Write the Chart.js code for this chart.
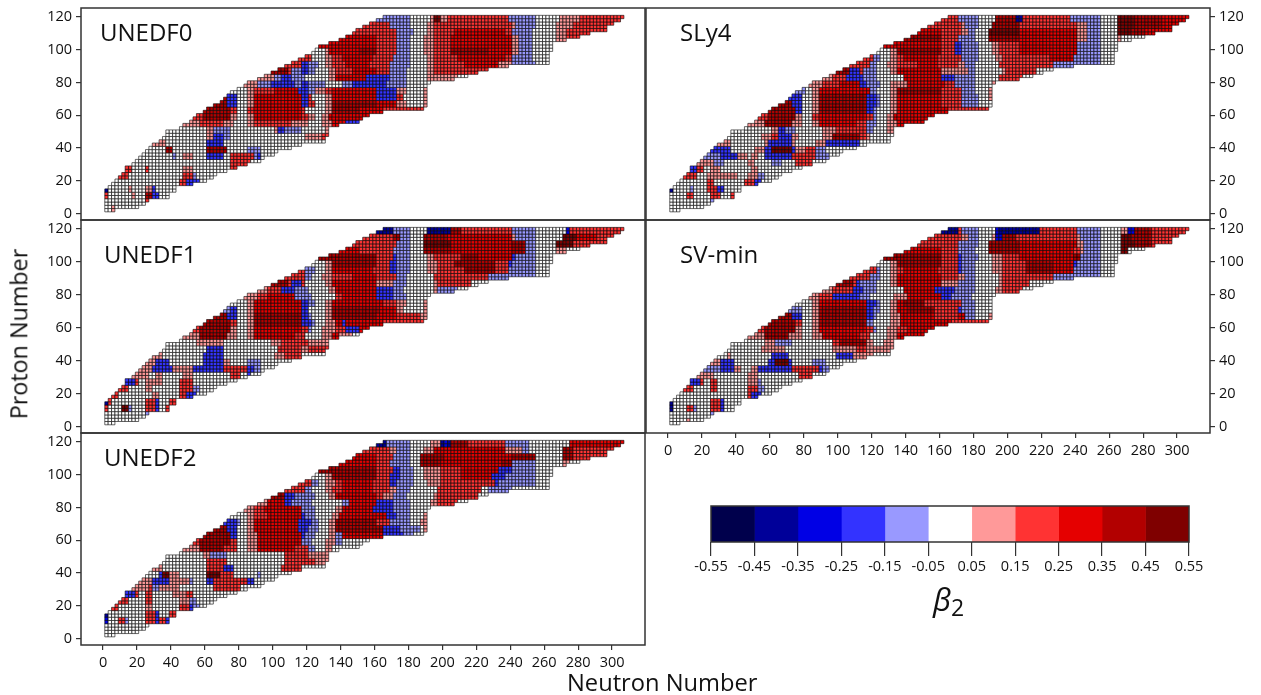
<!DOCTYPE html>
<html>
<head>
<meta charset="utf-8">
<script src="https://cdn.jsdelivr.net/npm/chart.js@4"></script>
<style>
body{margin:0;background:#fff;width:1261px;height:695px;overflow:hidden;font-family:"Open Sans",sans-serif;color:#111}
canvas{position:absolute}
.txt{position:absolute;white-space:nowrap;line-height:1}
</style>
</head>
<body>
<script>
// proton rows, and where each row starts and stops in neutron number
const rowZ =     [2,4,6,8,10,12,14,16,18,20,22,24,26,28,30,32,34,36,38,40,42,44,46,48,50,52,54,56,58,60,62,64,66,68,70,72,74,76,78,80,82,84,86,88,90,92,94,96,98,100,102,104,106,108,110,112,114,116,118,120];
const rowStart = [2,2,2,2,2,2,2,4,6,8,10,12,14,14,18,20,22,24,26,28,30,34,36,38,38,46,48,52,54,56,60,62,66,70,72,74,76,80,84,86,92,96,100,104,108,112,116,120,124,126,128,134,140,144,148,150,154,158,162,166];
const rowEnd =   [6,20,24,26,38,38,42,42,52,60,64,66,72,78,84,92,94,100,102,110,116,130,130,132,132,132,138,150,152,156,164,188,190,190,190,190,190,190,190,192,206,214,220,226,238,262,262,262,262,264,264,264,272,280,286,296,296,300,304,306];

const xTicks = [0,20,40,60,80,100,120,140,160,180,200,220,240,260,280,300];
const yTicks = [0,20,40,60,80,100,120];
const colorTicks = [-0.55,-0.45,-0.35,-0.25,-0.15,-0.05,0.05,0.15,0.25,0.35,0.45,0.55];
const colorTickLabels = ['-0.55','-0.45','-0.35','-0.25','-0.15','-0.05','0.05','0.15','0.25','0.35','0.45','0.55'];
const levelCodes = ['a','b','c','d','e','f','g','h','i','j','k'];
const levelColors = ['#00004c','#000099','#0000e5','#3333ff','#9999ff','#ffffff','#ff9999','#ff3333','#e50000','#b20000','#7f0000'];

// one line per pair of rows from Z=120/118 down to Z=4/2.
// "h170" means level h up to N=170
const unedf0Rows = [
'e180 f192 g194 k198 g202 h238 e254 f268 g280 h320',
'h168 e180 f190 g194 h240 g242 e254 f266 g276 h320',
'h172 e182 f190 g194 h206 i236 h240 e252 f266 g272 h320',
'i160 h172 e180 f188 g194 h204 i240 g244 e252 f266 g272 h320',
'i160 h172 e180 f188 g194 h204 i240 g244 e252 f264 g320',
'f130 g132 i150 j160 h172 e180 f188 g194 h204 j226 i240 g244 e252 f320',
'h122 f130 g134 h140 i158 h170 e180 f190 g194 h208 i236 h240 e252 f320',
'h116 d120 e126 f130 g134 h142 i156 h168 e180 f190 g194 h212 i232 g240 e254 f320',
'j108 h110 e116 d120 e124 f132 g136 h146 i160 h168 e178 f190 g194 h226',
'g100 e104 d110 e118 f132 g136 i154 d168 e178 f190 g208',
'g90 e98 d112 e116 d120 e130 f140 e146 d166 e178 f194',
'f84 g88 h100 i114 d120 e124 g130 h134 i160 d172 g178 f188 g192',
'j72 d78 f84 g88 i116 d120 h122 f130 g134 i160 d172 h176 f188 g192',
'j72 d78 f84 g88 i116 d120 h124 f130 g134 j160 i172 g178 f188 g192',
'j74 h78 f84 h88 i116 h118 f130 g134 j150 i164 h190',
'h58 j74 g78 f84 g88 i116 h120 g124 f128 g132 i160',
'g56 h70 g76 f84 g88 h110 g120 f128 g134 i142 d152 i164',
'f60 g64 e74 f100 g102 d106 e116 f130 g134',
'f60 g64 d70 e74 f118 g128 h132 g134',
'g36 f60 d70 f116',
'f36 j40 f60 j72 f84 e92 f116',
'f40 e42 f46 g52 f60 d70 f74 h88 e90 d92 f102',
'f74 h86 f94',
'h16 f24 h26 f46 g52 f74 h80',
'h14 f46 h52 e54 f70',
'f44 h48 d56 f62',
'b2 f14 g16 f24 g28 d30 f42',
'h2 f16 g18 f24 j28 d32 f38 g40',
'f24 h26 f38',
'f4 g6 f30'
];
const sly4Rows = [
'h170 e182 f192 j204 b208 h236 e254 f264 k274 j290 i320',
'h172 g174 e182 f190 j206 h240 g246 e254 f264 k274 j290 i320',
'i160 h172 g176 e180 f188 k206 i240 g246 e254 f264 k272 j280 i320',
'j160 h170 e180 f188 j206 i240 g246 e254 f264 g266 f320',
'i160 h168 d172 e182 f190 g194 h206 i240 e254 f264 g320',
'f130 g134 j160 h168 d172 e182 f190 g194 h206 i240 e254 f264 g320',
'h120 e124 f130 g134 h138 i158 h172 e182 f192 g196 h224 i238 e254 f320',
'h118 e122 f128 g134 h146 i158 h170 g174 e180 f194 h226 e254 f320',
'j106 d112 h114 e122 f130 g134 i160 g176 e180 f196 g198 h216',
'g96 h104 d114 e122 f138 i160 d168 e180 f194 h208',
'g90 h100 i112 d116 e124 f130 g140 i162 h168 e180 f190 g192',
'e80 f84 g88 i118 e122 f130 g134 j160 h172 e180 f188 g192',
'd78 f84 g88 j116 d122 e124 f130 g134 i160 h172 e182 f188 g192',
'j72 d78 f84 g88 j116 d122 e124 f130 g134 i160 h172 e182 f190',
'j74 d78 f84 g88 j116 d120 e122 f130 g134 i164 h188 e190',
'h58 j74 g78 f84 h88 i116 h120 e122 f128 g132 i160',
'g56 j72 g78 f84 g88 i110 h116 e122 f128 g134 i164',
'f60 g64 d68 e74 f90 g98 h116 e120 f128 g132',
'f54 g60 h64 d72 g76 f90 g96 j112 h116 g118 f132',
'g36 f56 g58 d72 g74 f86 g92 d112 f118',
'd37 f50 g56 d60 k72 d74 g80 h86 e92 f104',
'e30 d40 g46 f48 g52 f56 d72 h80 h86 e94 f100',
'g26 e32 f46 g50 f60 e66 f74 h84 f94',
'd16 h20 f24 g30 f48 g52 f70',
'h16 f22 g26 g40 f46 g52 e56 f70',
'f22 h26 f44 h50 d54 f62',
'b2 f12 e14 f22 h28 d32 f42',
'f10 h14 f24 h30 f36 h40',
'f24 e28 f26',
'f40'
];
const unedf1Rows = [
'b170 e180 f190 b204 j210 h240 e254 f272 c274 h320',
'h170 j174 e180 f188 j202 i240 g242 e254 f270 k278 i290 h320',
'h172 e180 f188 k204 i240 j248 e254 f266 k276 h320',
'i150 h170 e180 f188 j204 i240 j248 e254 f266 g272 f320',
'j160 h170 d172 e180 f190 g194 h210 j220 i240 d242 e254 f264 g266',
'f130 g134 j160 h168 d172 e180 f190 g196 h206 j230 h238 d240 e254 f266',
'h118 e124 f130 g134 i158 h168 d172 e180 f190 g196 h212 j230 h238 e254 f264',
'h118 e122 f128 g134 h146 i160 h172 e178 f194 h226 e254 f320',
'j108 h110 d116 h118 f130 g134 i160 g170 e178 f194 g196 h216',
'g96 h104 d112 e120 f132 g136 i160 d170 e176 f194 g196 e208',
'g90 h96 i112 e122 f136 h140 i160 d170 e178 f192',
'f84 g88 i116 d120 e124 f130 g134 i165 h172 g178 f188 g192',
'e74 d78 f84 g88 i116 d120 f130 g134 j162 i172 g176 f188 g192',
'j72 d78 f84 g88 j116 d120 e122 f130 g134 j160 i172 h186 g190',
'j74 h78 f84 g88 j116 d122 e124 f130 g136 i140 d142 i164 h188',
'h56 j74 g78 f84 g88 i116 h120 e122 f128 g136 h142 d150 i164',
'g56 j72 g78 f84 g88 i112 h118 f128 g134 i138 g146 f150',
'f54 g70 f98 g104 h120 g134',
'f60 d70 f102 h116 g120 h132',
'g34 f58 d70 f100 g106 h116',
'g30 d38 f58 d70 g74 f84 e92 f110',
'g28 d40 g46 g52 d70 h84 d88 e92 f100',
'g26 f30 g34 f46 g52 f74 h80 f84 d86 f94',
'd18 h20 f24 g34 f44 h52 f80',
'h14 f24 g28 f44 h52 e56 f70',
'h8 f28 g32 f44 h48 d54 f64',
'b2 h4 f24 h30 d32 f38 h42',
'h2 f10 k14 e16 f24 h30 d32 f36 h40',
'f24 e28 f30',
'f40'
];
const unedf2Rows = [
'b166 e180 f192 g198 b200 c202 b204 j214 h236 e250 f274 i320',
'h168 g172 e180 f188 g194 i236 g246 e250 f270 j276 h320',
'i160 h170 e180 f186 j200 i240 j254 f270 j276 h320',
'i160 h168 e180 f186 j198 i234 j240 e254 f270 g274',
'j160 h170 d174 e182 f188 g198 h210 i232 d240 e254 f264 g266',
'f130 g134 j160 h168 d174 e182 f188 g198 h210 i228 d236 e254 f264',
'h122 e126 f130 g136 h140 i158 h168 d172 e182 f190 g198 h230 d232 e254 f262',
'h118 e122 f130 g134 h140 i158 h168 g172 e180 f196 h222 f226 e240',
'j106 d112 e124 f132 g136 i160 h164 g170 e178 f194 g196 h220',
'g96 i106 d110 e122 f140 e144 i160 d170 e180 f192 g196 h208',
'g88 h94 i116 e124 f136 g140 i158 d170 e180 f192 g194',
'f84 g88 h96 i116 d118 e124 f134 g138 i166 d172 e180 f188 g192',
'd78 e80 f84 g88 i114 d122 e126 f132 g136 j160 h168 e180 f186 g192',
'j72 d78 f84 g88 i114 d120 e126 f132 g136 j164 d174 e186 f188 g192',
'j74 d78 f84 g90 i116 d118 e124 f132 g136 e140 i164 d176 e182 f188',
'h56 j74 h78 f84 g90 i116 e122 f130 g136 e140 f154',
'g56 j70 h78 f84 g90 i112 h120 e124 f130 g134',
'f58 g62 e72 f106 h120 g134',
'f60 h72 f106 h116 h124 g134',
'g34 f60 h70 d76 f104 h116',
'f32 d34 k38 g44 f60 k68 h76 f90 e92 f110',
'g28 d38 g50 e52 f60 d64 h84 d88 f100',
'g26 h28 e32 g44 f64 h80 f94',
'd18 h20 f24 h28 f40 g48 h52 f80',
'h14 f24 h28 f44 g50 e54 f70',
'f4 h8 f24 g28 f44 h50 d52 e56 f64',
'b2 f24 h30 d32 f38 h42',
'c2 f8 h12 e14 f24 h30 d32 h36 d38',
'f30',
'f40'
];
const svminRows = [
'b170 h172 e182 f192 c194 b218 h240 e254 f266 g270 c274 j284 h320',
'h172 g176 e182 f190 g192 c196 j204 h240 g242 e254 f266 k272 j284 h320',
'h170 e182 f188 j206 i240 g244 e254 f266 k274 j284 h320',
'i160 h170 e180 f188 j206 i238 h242 g244 e254 f266 k270 f320',
'j160 h170 d172 e182 f190 g196 h206 i238 j242 e254 f266 g268',
'f130 g134 j160 h170 d172 e180 f190 g196 h210 j226 i238 d240 e254 f264',
'h122 e124 f130 g134 h138 i158 h170 d172 e180 f190 g196 h210 j226 i238 e254 f264',
'h118 e124 f130 g134 i160 h170 g174 e180 f194 g196 h226 e254 f320',
'j108 h110 d112 e122 f130 g134 i160 g170 e180 f194 g196 h212',
'g96 h108 d114 e122 f138 i156 d168 e180 f192 g196 h208',
'g88 h96 d112 e118 f132 g140 i160 d166 e178 f192',
'f84 g88 i116 d122 e124 f130 g134 i138 j150 h172 e180 f190 g192',
'e78 f84 g88 j116 d120 e124 f130 g134 i140 j156 h170 d172 e180 f190 g192',
'j72 d78 f84 g88 j116 d120 e122 f130 g136 i156 h170 i174 e180 f188 g192',
'j74 h78 f84 g88 j116 e120 f130 g136 i166 h188',
'h56 j74 g78 f84 g88 i116 h120 e122 f128 g134 h140 i164',
'g56 j70 g78 f84 g90 i112 h118 f128 g134 i164',
'f56 g62 e72 f96 h100 j116 g120 f126 g134',
'f54 g68 f96 g110 h116 g136',
'f34 g36 f60 d70 f98 d108 g120',
'g30 d38 f58 d62 k70 d72 f84 e92 f110',
'e30 d38 g42 f48 g52 d72 h88 d90 e94 f100',
'g26 f46 g52 f76 h84 f94',
'd18 h20 f24 h28 f46 g52 e54 f80',
'h14 f24 h28 f46 h52 e56 f70',
'f46 h48 d54 f64',
'b2 f24 h30 d32 f42',
'b2 f10 h14 e16 f24 h30 d32 f38 h42',
'f24 e28 f30',
'f10 g12 f40'
];

const cellRadius = 2.36;

function levelAt(rows, z, n){
    const tokens = rows[Math.floor((120 - z) / 4)].split(' ');
    for(const t of tokens){
        if(n <= +t.slice(1)) return t[0];
    }
    return 'f';
}

function buildPoints(rows){
    const points = [], colors = [];
    rowZ.forEach((z, i) => {
        for(let n = rowStart[i]; n <= rowEnd[i]; n += 2){
            points.push({x:n, y:z});
            colors.push(levelColors[levelCodes.indexOf(levelAt(rows, z, n))]);
        }
    });
    return {points, colors};
}

const framePlugin = {
    id:'frame',
    afterDraw(chart){
        const a = chart.chartArea, c = chart.ctx;
        c.save();
        c.strokeStyle = '#333';
        c.lineWidth = 1.5;
        c.strokeRect(a.left, a.top, a.width, a.height);
        c.restore();
    }
};

const tickFont = {family:'"Open Sans", sans-serif', size:14.5};

// keeps the tick labels from pushing the plot area around
function noScalePadding(s){
    s.paddingTop = 0; s.paddingBottom = 0; s.paddingLeft = 0; s.paddingRight = 0;
}

function addCanvas(left, top, w, h){
    const cv = document.createElement('canvas');
    cv.width = w; cv.height = h;
    cv.style.left = left + 'px';
    cv.style.top = top + 'px';
    cv.style.width = w + 'px';
    cv.style.height = h + 'px';
    document.body.appendChild(cv);
    return cv;
}

function makePanel(rows, box, side, showX){
    const isLeft = side == 'left';
    const canvasLeft = isLeft ? 0 : box.l - 6;
    const canvasW = isLeft ? box.r + 3 : 1261 - canvasLeft;
    const canvasH = box.b - box.t + 8 + (showX ? 40 : 4);
    const d = buildPoints(rows);
    new Chart(addCanvas(canvasLeft, box.t - 8, canvasW, canvasH), {
        type:'scatter',
        data:{datasets:[{
            data:d.points,
            pointStyle:'rect',
            pointRadius:cellRadius,
            pointHoverRadius:cellRadius,
            pointBackgroundColor:d.colors,
            pointBorderColor:'#000',
            pointBorderWidth:0.6,
            showLine:false
        }]},
        options:{
            responsive:false,
            animation:false,
            events:[],
            layout:{padding:{top:8, left:isLeft ? 0 : 6, right:isLeft ? 3 : 0, bottom:showX ? 0 : 4}},
            plugins:{legend:{display:false}, tooltip:{enabled:false}},
            scales:{
                x:{
                    type:'linear', min:-13, max:319.4, display:showX,
                    grid:{drawOnChartArea:false, tickLength:5, color:'#333', lineWidth:1.2},
                    border:{display:false},
                    afterBuildTicks(s){ s.ticks = xTicks.map(v => ({value:v})); },
                    afterFit(s){ s.height = showX ? 40 : 0; noScalePadding(s); },
                    ticks:{font:tickFont, color:'#111', padding:4, maxRotation:0, autoSkip:false}
                },
                y:{
                    type:'linear', min:-4, max:125.5, position:side,
                    grid:{drawOnChartArea:false, tickLength:5, color:'#333', lineWidth:1.2},
                    border:{display:false},
                    afterBuildTicks(s){ s.ticks = yTicks.map(v => ({value:v})); },
                    afterFit(s){ s.width = isLeft ? box.l : 1261 - box.r; noScalePadding(s); },
                    ticks:{font:tickFont, color:'#111', padding:4}
                }
            }
        },
        plugins:[framePlugin]
    });
}

makePanel(unedf0Rows, {l:81, r:645, t:8, b:220}, 'left', false);
makePanel(unedf1Rows, {l:81, r:645, t:220, b:433}, 'left', false);
makePanel(unedf2Rows, {l:81, r:645, t:433, b:645}, 'left', true);
makePanel(sly4Rows, {l:646, r:1210, t:8, b:220}, 'right', false);
makePanel(svminRows, {l:646, r:1210, t:220, b:433}, 'right', true);

// colour bar
new Chart(addCanvas(690, 500, 540, 85), {
    type:'bar',
    data:{
        labels:['b2'],
        datasets:levelColors.map((col, i) => ({
            data:[[colorTicks[i], colorTicks[i + 1]]],
            backgroundColor:col,
            barPercentage:1,
            categoryPercentage:1
        }))
    },
    options:{
        indexAxis:'y',
        responsive:false,
        animation:false,
        events:[],
        layout:{padding:{top:6, left:21, right:41, bottom:0}},
        plugins:{legend:{display:false}, tooltip:{enabled:false}},
        scales:{
            x:{
                type:'linear', min:-0.55, max:0.55,
                grid:{drawOnChartArea:false, tickLength:14, color:'#333', lineWidth:1.2},
                border:{display:false},
                afterBuildTicks(s){ s.ticks = colorTicks.map(v => ({value:v})); },
                afterFit(s){ s.height = 43; noScalePadding(s); },
                ticks:{
                    font:tickFont, color:'#111', padding:2, maxRotation:0, autoSkip:false,
                    callback(v, i){ return colorTickLabels[i]; }
                }
            },
            y:{stacked:true, display:false}
        }
    },
    plugins:[framePlugin]
});

// text on top of the charts
const labels = [
    ['UNEDF0',100,20,24],['UNEDF1',104,242,24],['UNEDF2',104,445,24],
    ['SLy4',680,20,24],['SV-min',680,242,24],
    ['Neutron Number',567,671,23.7]
];
labels.forEach(l => {
    const el = document.createElement('div');
    el.className = 'txt';
    el.textContent = l[0];
    el.style.left = l[1] + 'px';
    el.style.top = l[2] + 'px';
    el.style.fontSize = l[3] + 'px';
    document.body.appendChild(el);
});
const py = document.createElement('div');
py.className = 'txt';
py.textContent = 'Proton Number';
py.style.cssText += 'left:19px;top:334px;font-size:23.3px;transform:translate(-50%,-50%) rotate(-90deg)';
document.body.appendChild(py);
const beta = document.createElement('div');
beta.className = 'txt';
beta.innerHTML = '<i style="font-size:31px">β</i><span style="font-size:23px;position:relative;top:5px">2</span>';
beta.style.cssText += 'left:933px;top:584px';
document.body.appendChild(beta);
</script>
</body>
</html>
